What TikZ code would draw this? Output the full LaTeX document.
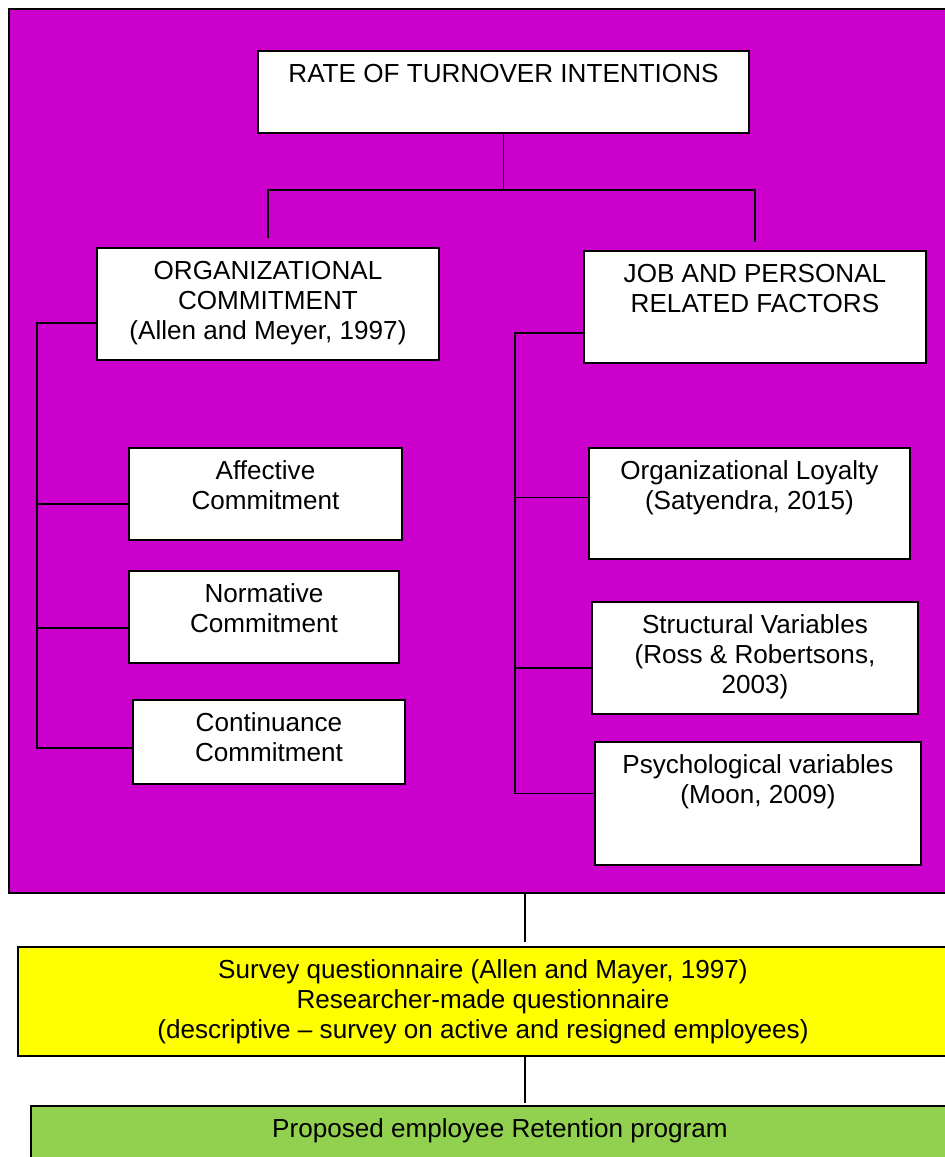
\documentclass[tikz,border=0pt]{standalone}
\usepackage{fontspec}
\setmainfont{Liberation Sans}
\usepackage{tikz}

\newdimen\px
\px=0.2mm
\definecolor{framepurple}{RGB}{204,0,204}
\definecolor{surveyyellow}{RGB}{255,255,0}
\definecolor{programgreen}{RGB}{146,208,80}
\newcommand{\boxtext}[3]{\parbox[c][#2\px][t]{#1\px}{\centering\rule{0pt}{18pt}#3}}

\begin{document}
\begin{tikzpicture}[
		x=0.2mm, y=-0.2mm,
		line width=1.1pt,
		every node/.style={draw, line width=1.1pt, inner sep=0pt, anchor=north west, font=\fontsize{14.85}{17}\selectfont},
		box/.style={fill=white}
	]
  \useasboundingbox (0, 0) rectangle (945, 1157);
  \node (frame) [fill=framepurple, minimum width=988\px, minimum height=884\px] at (8, 8) {};
  \node (rate) [box] at (257, 50) {\boxtext{491}{82}{RATE OF TURNOVER INTENTIONS}};
  \node (org) [box] at (96, 247) {\boxtext{342}{112}{ORGANIZATIONAL\\COMMITMENT\\(Allen and Meyer, 1997)}};
  \node (job) [box] at (583, 250) {\boxtext{342}{112}{JOB AND PERSONAL\\RELATED FACTORS}};
  \node (aff) [box] at (128, 447) {\boxtext{273}{92}{Affective\\Commitment}};
  \node (norm) [box] at (128, 570) {\boxtext{270}{92}{Normative\\Commitment}};
  \node (cont) [box] at (132, 699) {\boxtext{272}{84}{Continuance\\Commitment}};
  \node (loyal) [box] at (588, 447) {\boxtext{321}{111}{Organizational Loyalty\\(Satyendra, 2015)}};
  \node (struct) [box] at (591, 601) {\boxtext{326}{112}{Structural Variables\\(Ross \& Robertsons,\\2003)}};
  \node (psych) [box] at (594, 741) {\boxtext{326}{123}{Psychological variables\\(Moon, 2009)}};
  \node (survey) [fill=surveyyellow] at (17, 946) {\boxtext{930}{109}{Survey questionnaire (Allen and Mayer, 1997)\\Researcher-made questionnaire\\(descriptive -- survey on active and resigned employees)}};
  \node (program) [fill=programgreen] at (30, 1105) {\boxtext{938}{80}{Proposed employee Retention program}};
  \coordinate (split) at ([yshift=-56\px]rate.south);
  \coordinate (lbus) at (37, 0);
  \coordinate (rbus) at (515, 0);
  \coordinate (spine) at (525, 0);
  \draw (rate.south) -- (split);
  \draw ([yshift=9\px]org.north) |- (split) -| ([yshift=8\px]job.north);
  \draw ([yshift=-19\px]org.west) -| ([yshift=-6\px]cont.west -| lbus) -- ([yshift=-6\px]cont.west);
  \draw ([yshift=-10\px]aff.west) -- ([yshift=-10\px]aff.west -| lbus);
  \draw ([yshift=-11\px]norm.west) -- ([yshift=-11\px]norm.west -| lbus);
  \draw ([yshift=-26\px]job.west) -| ([yshift=10\px]psych.west -| rbus) -- ([yshift=10\px]psych.west);
  \draw ([yshift=6\px]loyal.west) -- ([yshift=6\px]loyal.west -| rbus);
  \draw ([yshift=-10\px]struct.west) -- ([yshift=-10\px]struct.west -| rbus);
  \draw (frame.south -| spine) -- ([yshift=4\px]survey.north -| spine);
  \draw (survey.south -| spine) -- ([yshift=2\px]program.north -| spine);
\end{tikzpicture}
\end{document}
